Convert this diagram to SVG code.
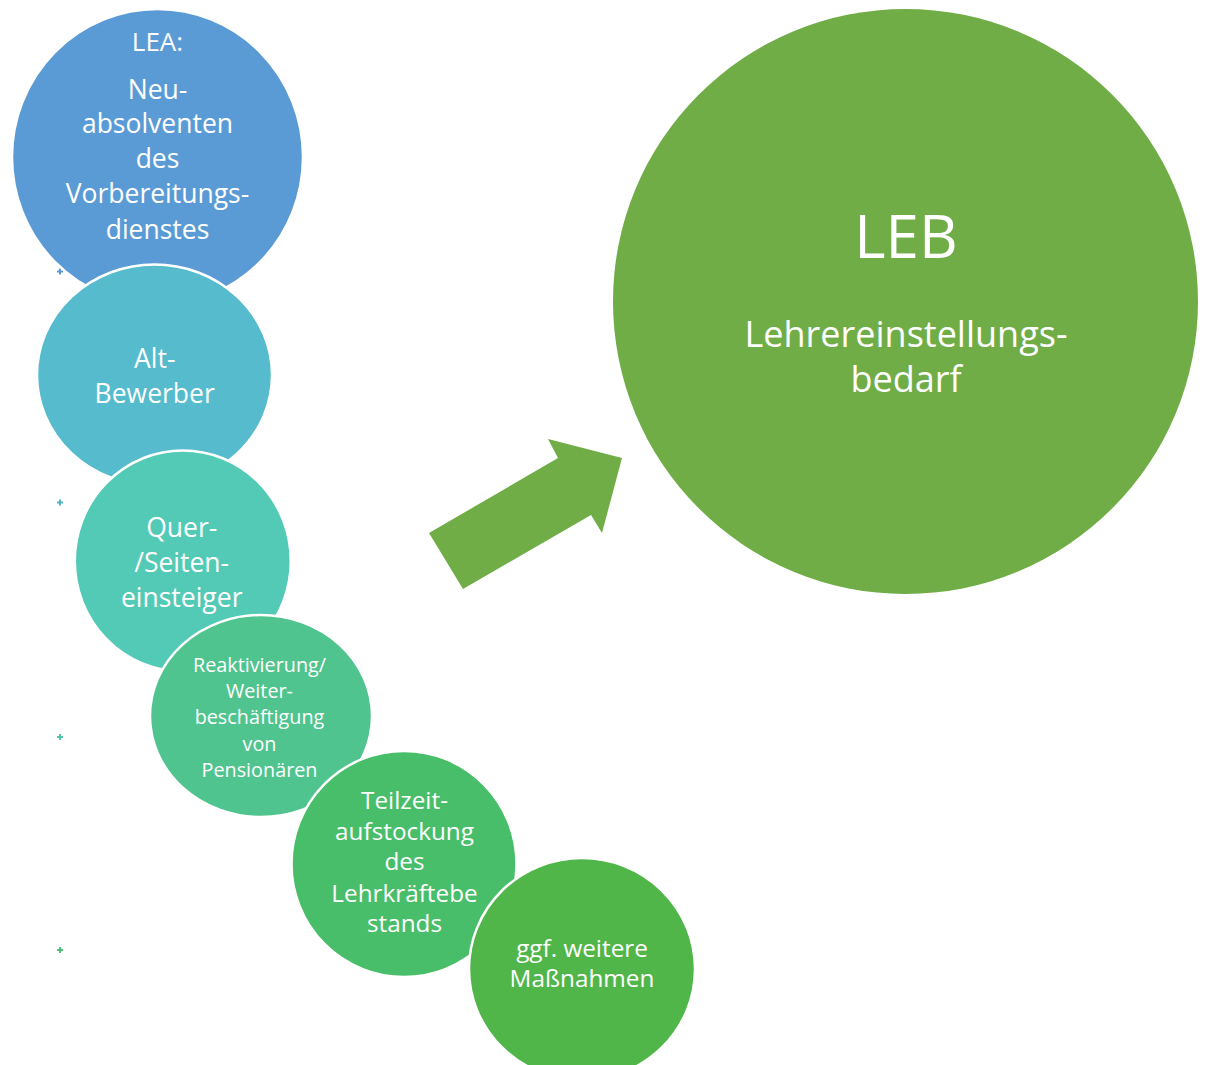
<svg xmlns="http://www.w3.org/2000/svg" width="1205" height="1065" viewBox="0 0 1205 1065">
<style>
  .bub { stroke: #ffffff; stroke-width: 2.5; }
  .t { font-family: "Open Sans", "Liberation Sans", sans-serif; fill: #ffffff; text-anchor: middle; }
  .plus { stroke-width: 2; fill: none; }
</style>
<rect width="1205" height="1065" fill="#ffffff"/>
<g id="markers">
  <path class="plus" stroke="#5B9BD5" d="M57 271.5h6M60 268.5v6"/>
  <path class="plus" stroke="#52B3C8" d="M57 502.5h6M60 499.5v6"/>
  <path class="plus" stroke="#4CC6AE" d="M57 737h6M60 734v6"/>
  <path class="plus" stroke="#4DC07A" d="M57 950h6M60 947v6"/>
</g>
<g id="node-lea">
  <ellipse class="bub" cx="157.5" cy="157" rx="145.5" ry="148" fill="#5B9BD5"/>
  <text class="t" font-size="26" x="157.5" y="50.5">LEA:</text>
  <text class="t" font-size="26.5" x="157.5" y="99">Neu-</text>
  <text class="t" font-size="26.5" x="157.5" y="133">absolventen</text>
  <text class="t" font-size="26.5" x="157.5" y="168.3">des</text>
  <text class="t" font-size="26.5" x="157.5" y="203.3">Vorbereitungs-</text>
  <text class="t" font-size="26.5" x="157.5" y="239.3">dienstes</text>
</g>
<g id="node-alt">
  <ellipse class="bub" cx="154.5" cy="375" rx="117.5" ry="110.5" fill="#55BBCD"/>
  <text class="t" font-size="26.5" x="154.7" y="368.3">Alt-</text>
  <text class="t" font-size="26.5" x="154.7" y="402.7">Bewerber</text>
</g>
<g id="node-quer">
  <ellipse class="bub" cx="182.8" cy="561" rx="108" ry="110.5" fill="#53CAB6"/>
  <text class="t" font-size="26.5" x="181.7" y="536.7">Quer-</text>
  <text class="t" font-size="26.5" x="181.7" y="571.7">/Seiten-</text>
  <text class="t" font-size="26.5" x="181.7" y="606.7">einsteiger</text>
</g>
<g id="node-reakt">
  <ellipse class="bub" cx="261" cy="716" rx="111" ry="101" fill="#50C48E"/>
  <text class="t" font-size="19.8" x="259.5" y="671.7">Reaktivierung/</text>
  <text class="t" font-size="19.8" x="259.5" y="698">Weiter-</text>
  <text class="t" font-size="19.8" x="259.5" y="724.2">beschäftigung</text>
  <text class="t" font-size="19.8" x="259.5" y="750.5">von</text>
  <text class="t" font-size="19.8" x="259.5" y="776.7">Pensionären</text>
</g>
<g id="node-teilzeit">
  <ellipse class="bub" cx="404" cy="864" rx="112.5" ry="113" fill="#48BE6A"/>
  <text class="t" font-size="24.3" x="404.5" y="809.3">Teilzeit-</text>
  <text class="t" font-size="24.3" x="404.5" y="840">aufstockung</text>
  <text class="t" font-size="24.3" x="404.5" y="870">des</text>
  <text class="t" font-size="24.3" x="404.5" y="901.7">Lehrkräftebe</text>
  <text class="t" font-size="24.3" x="404.5" y="931.7">stands</text>
</g>
<g id="node-ggf">
  <ellipse class="bub" cx="582" cy="969" rx="113" ry="111" fill="#51B64A"/>
  <text class="t" font-size="24.3" x="582" y="956.7">ggf. weitere</text>
  <text class="t" font-size="24.3" x="582" y="986.7">Maßnahmen</text>
</g>
<g id="node-leb">
  <circle cx="905.5" cy="301.5" r="292.5" fill="#70AD47"/>
  <text class="t" font-size="60" x="906" y="257.8">LEB</text>
  <text class="t" font-size="36" x="906" y="346.9">Lehrereinstellungs-</text>
  <text class="t" font-size="36" x="906" y="391.5">bedarf</text>
</g>
<g id="connectors">
  <polygon points="429,533 558,458 548,439 622,458 602,533 591,515 463,589" fill="#70AD47"/>
</g>
</svg>
